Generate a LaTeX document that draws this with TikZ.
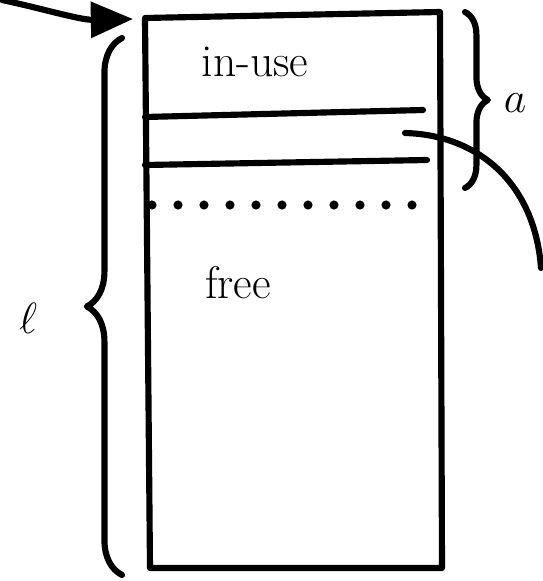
\documentclass[tikz,border=0pt]{standalone}
\usetikzlibrary{arrows.meta,decorations.pathreplacing}
\tikzset{
  ink/.style={line width=3.5pt,line cap=round,line join=round},
  bracemark/.style={ink,decorate,decoration={brace,amplitude=#1}},
  tag/.style={font=\fontsize{26}{30}\selectfont}
}
\begin{document}
\begin{tikzpicture}[x=0.02cm,y=-0.02cm]
\useasboundingbox (0,0) rectangle (543,581);
% the block
\coordinate (tl) at (145,18); \coordinate (tr) at (440,12);
\coordinate (br) at (442,568); \coordinate (bl) at (150,568);
\draw[ink] (tl) -- (tr) -- (br) -- (bl) -- cycle;
% in-use part
\draw[ink] (145,117) -- (423,110);
\draw[ink] (145,165) -- (427,160);
\foreach \x in {152,178,...,414} \fill (\x,205) circle (2.6pt);
\node[tag] (inuse) at (255,62) {in-use};
\node[tag] (free) at (238,283) {free};
% pointer to the block
\coordinate (src) at (2,0); \coordinate (ptr) at (133,19);
\draw[ink,-{Triangle[length=24pt,width=20pt]}] (src) .. controls (40,8) and (80,20) .. (ptr);
% link out of the last record
\coordinate (rec) at (405,133); \coordinate (out) at (541,268);
\draw[ink] (rec) .. controls (480,135) and (535,185) .. (out);
% sizes
\coordinate (a1) at (465,12); \coordinate (a2) at (465,188);
\draw[bracemark=13pt] (a1) -- (a2);
\node[tag] (a) at (515,103) {$a$};
\coordinate (l1) at (122,575); \coordinate (l2) at (122,38);
\draw[bracemark=20pt] (l1) -- (l2);
\node[tag] (l) at (28,318) {$\ell$};
\end{tikzpicture}
\end{document}
